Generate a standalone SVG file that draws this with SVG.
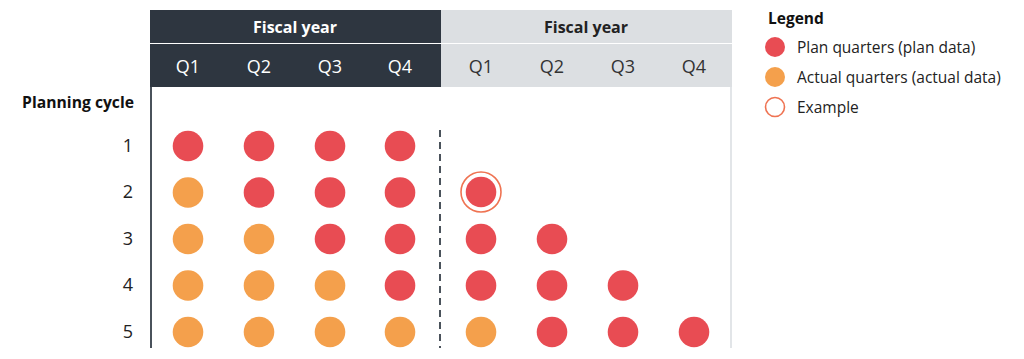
<svg xmlns="http://www.w3.org/2000/svg" width="1024" height="359" viewBox="0 0 1024 359">
<style>
text{font-family:"Open Sans","Liberation Sans",sans-serif;}
.hd{font-size:16px;font-weight:700;text-anchor:middle;}
.q{font-size:18px;text-anchor:middle;}
.rl{font-size:18px;text-anchor:middle;fill:#222;}
.plan{fill:#e84c53;}
.act{fill:#f4a04c;}
.lg{font-size:15.5px;fill:#222;}
</style>
<rect width="1024" height="359" fill="#fff"/>
<g id="header-dark">
<rect x="150" y="10" width="291" height="33" fill="#2e3640"/>
<rect x="150" y="44" width="291" height="43" fill="#2e3640"/>
<text class="hd" x="295" y="33" fill="#fff">Fiscal year</text>
<text class="q" x="188" y="73" fill="#fff">Q1</text>
<text class="q" x="259" y="73" fill="#fff">Q2</text>
<text class="q" x="330" y="73" fill="#fff">Q3</text>
<text class="q" x="400" y="73" fill="#fff">Q4</text>
</g>
<g id="header-light">
<rect x="441" y="10" width="291" height="33" fill="#dcdfe2"/>
<rect x="441" y="44" width="291" height="43" fill="#dcdfe2"/>
<text class="hd" x="586" y="33" fill="#222">Fiscal year</text>
<text class="q" x="481" y="73" fill="#333">Q1</text>
<text class="q" x="552" y="73" fill="#333">Q2</text>
<text class="q" x="623" y="73" fill="#333">Q3</text>
<text class="q" x="694" y="73" fill="#333">Q4</text>
</g>
<g id="connectors">
<line x1="151" y1="87" x2="151" y2="348" stroke="#4a525b" stroke-width="2"/>
<line x1="731" y1="87" x2="731" y2="348" stroke="#e2e5e8" stroke-width="2"/>
<line x1="440" y1="130" x2="440" y2="348" stroke="#4a525b" stroke-width="2" stroke-dasharray="7,5"/>
</g>
<g id="row-labels">
<text x="134" y="108" font-size="15.7" font-weight="700" text-anchor="end" fill="#111">Planning cycle</text>
<text class="rl" x="128" y="152">1</text>
<text class="rl" x="128" y="198">2</text>
<text class="rl" x="128" y="245">3</text>
<text class="rl" x="128" y="291">4</text>
<text class="rl" x="128" y="338">5</text>
</g>
<g id="row1">
<circle class="plan" cx="188" cy="146" r="15.3"/>
<circle class="plan" cx="259" cy="146" r="15.3"/>
<circle class="plan" cx="330" cy="146" r="15.3"/>
<circle class="plan" cx="400" cy="146" r="15.3"/>
</g>
<g id="row2">
<circle class="act" cx="188" cy="192.5" r="15.3"/>
<circle class="plan" cx="259" cy="192.5" r="15.3"/>
<circle class="plan" cx="330" cy="192.5" r="15.3"/>
<circle class="plan" cx="400" cy="192.5" r="15.3"/>
<circle class="plan" cx="481" cy="192" r="15.3"/>
<circle cx="481" cy="192" r="20" fill="none" stroke="#ef7352" stroke-width="1.6"/>
</g>
<g id="row3">
<circle class="act" cx="188" cy="239" r="15.3"/>
<circle class="act" cx="259" cy="239" r="15.3"/>
<circle class="plan" cx="330" cy="239" r="15.3"/>
<circle class="plan" cx="400" cy="239" r="15.3"/>
<circle class="plan" cx="481" cy="239" r="15.3"/>
<circle class="plan" cx="552" cy="239" r="15.3"/>
</g>
<g id="row4">
<circle class="act" cx="188" cy="285.5" r="15.3"/>
<circle class="act" cx="259" cy="285.5" r="15.3"/>
<circle class="act" cx="330" cy="285.5" r="15.3"/>
<circle class="plan" cx="400" cy="285.5" r="15.3"/>
<circle class="plan" cx="481" cy="285.5" r="15.3"/>
<circle class="plan" cx="552" cy="285.5" r="15.3"/>
<circle class="plan" cx="623" cy="285.5" r="15.3"/>
</g>
<g id="row5">
<circle class="act" cx="188" cy="332" r="15.3"/>
<circle class="act" cx="259" cy="332" r="15.3"/>
<circle class="act" cx="330" cy="332" r="15.3"/>
<circle class="act" cx="400" cy="332" r="15.3"/>
<circle class="act" cx="481" cy="332" r="15.3"/>
<circle class="plan" cx="552" cy="332" r="15.3"/>
<circle class="plan" cx="623" cy="332" r="15.3"/>
<circle class="plan" cx="694" cy="332" r="15.3"/>
</g>
<g id="legend">
<text x="768" y="24" font-size="15.5" font-weight="700" fill="#111">Legend</text>
<circle class="plan" cx="775" cy="47" r="10"/>
<text class="lg" x="797" y="53">Plan quarters (plan data)</text>
<circle class="act" cx="775" cy="77" r="10"/>
<text class="lg" x="797" y="83">Actual quarters (actual data)</text>
<circle cx="775" cy="107" r="9.5" fill="none" stroke="#ef7352" stroke-width="1.6"/>
<text class="lg" x="797" y="113">Example</text>
</g>
</svg>
